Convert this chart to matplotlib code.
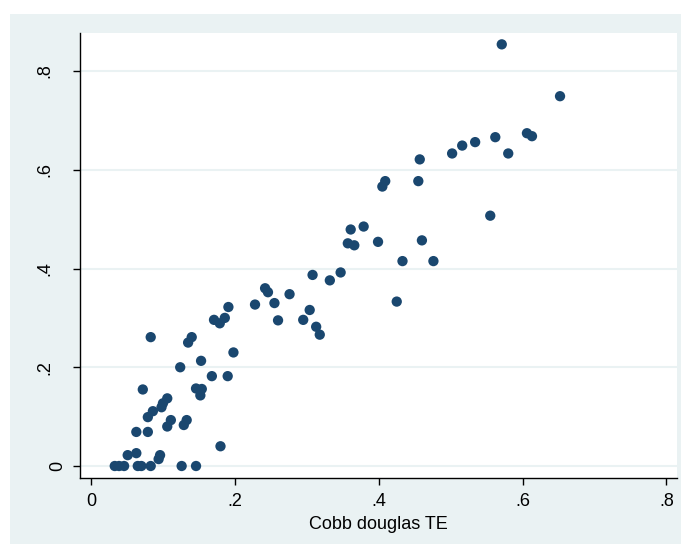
import matplotlib
matplotlib.use('Agg')
import matplotlib.pyplot as plt
from matplotlib.patches import Rectangle

plt.rcParams['font.family'] = ['Liberation Sans', 'DejaVu Sans']

# Cobb douglas TE (x) vs the other efficiency score (y)
cd_te = [0.033, 0.039, 0.046, 0.065, 0.070, 0.083, 0.126, 0.146,
         0.051, 0.063, 0.094, 0.096, 0.180, 0.063, 0.079, 0.106,
         0.111, 0.129, 0.133, 0.079, 0.086, 0.098, 0.100, 0.106,
         0.072, 0.146, 0.154, 0.152, 0.168, 0.190, 0.124, 0.153,
         0.198, 0.083, 0.135, 0.140, 0.191, 0.171, 0.179, 0.186,
         0.228, 0.242, 0.246, 0.255, 0.260, 0.276, 0.295, 0.304,
         0.313, 0.318, 0.308, 0.332, 0.347, 0.361, 0.379, 0.357,
         0.366, 0.399, 0.425, 0.433, 0.476, 0.460, 0.405, 0.409,
         0.455, 0.457, 0.502, 0.516, 0.534, 0.562, 0.580, 0.555,
         0.606, 0.613, 0.571, 0.652]
other_te = [0.0, 0.0, 0.0, 0.0, 0.0, 0.0, 0.0, 0.0,
            0.022, 0.026, 0.014, 0.022, 0.040, 0.069, 0.069, 0.080,
            0.093, 0.083, 0.093, 0.099, 0.111, 0.119, 0.127, 0.137,
            0.155, 0.157, 0.156, 0.143, 0.182, 0.182, 0.200, 0.213,
            0.230, 0.261, 0.250, 0.261, 0.322, 0.296, 0.289, 0.300,
            0.327, 0.360, 0.352, 0.330, 0.295, 0.348, 0.296, 0.316,
            0.282, 0.266, 0.387, 0.376, 0.392, 0.479, 0.485, 0.451,
            0.447, 0.454, 0.333, 0.415, 0.415, 0.457, 0.566, 0.577,
            0.577, 0.621, 0.633, 0.649, 0.656, 0.666, 0.633, 0.507,
            0.674, 0.668, 0.854, 0.749]

ticks = [0, 0.2, 0.4, 0.6, 0.8]
tick_labels = ['0', '.2', '.4', '.6', '.8']

W, H = 681, 544
fig = plt.figure(figsize=(W / 100, H / 100), dpi=100)
fig.patch.set_facecolor('white')
bg = Rectangle((10 / W, 0), 1 - 10 / W, 1 - 14 / H, transform=fig.transFigure,
               facecolor='#EAF2F3', edgecolor='none', zorder=-10)
fig.add_artist(bg)

ax = fig.add_axes([80 / W, (H - 478) / H, (677 - 80) / W, (478 - 33) / H])
ax.set_facecolor('white')
ax.scatter(cd_te, other_te, s=55, color='#1A476F', edgecolors='none', zorder=3)

ax.set_xlim(-0.0153, 0.8146)
ax.set_ylim(-0.0243, 0.877)
ax.set_xticks(ticks, tick_labels)
ax.set_yticks(ticks, [''] * len(ticks))
ax.tick_params(axis='both', labelsize=13, length=5, width=1, color='black', pad=6)
ax.yaxis.grid(True, color='#EAF2F3', linewidth=1.5)
ax.set_axisbelow(True)

# vertical y labels, placed the way Stata does (the plain "0" sits closer)
ytrans = ax.get_yaxis_transform()
for t, lab in zip(ticks, tick_labels):
    xpos = -0.0235 if lab == '0' else -0.0452
    ax.text(xpos, t, lab, transform=ytrans, rotation=90, ha='right',
            va='center', fontsize=13)

for side in ['top', 'right']:
    ax.spines[side].set_visible(False)
for side in ['left', 'bottom']:
    ax.spines[side].set_linewidth(1)
    ax.spines[side].set_color('black')

ax.set_xlabel('Cobb douglas TE', fontsize=13, labelpad=4)

fig.savefig('out.png', dpi=100)
